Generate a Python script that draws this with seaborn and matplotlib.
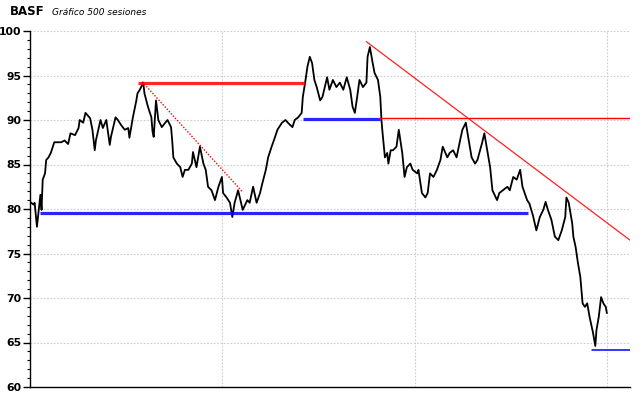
import numpy as np
import pandas as pd
import matplotlib
matplotlib.use("Agg")
import matplotlib.pyplot as plt
import seaborn as sns

# ---- data ----
sessions = [0, 3, 4, 6, 9, 10, 11, 13, 14, 16, 18, 21, 24, 27, 30, 33, 35, 39, 42, 43,
            46, 48, 52, 54, 56, 57, 61, 63, 66, 69, 70, 74, 76, 79, 82, 85, 86, 89, 92, 93,
            95, 98, 99, 102, 105, 106, 107, 109, 111, 114, 117, 119, 122, 123, 124, 127, 130, 132, 134, 137,
            140, 141, 144, 147, 150, 152, 154, 157, 160, 163, 166, 167, 170, 173, 175, 177, 180, 182, 184, 188,
            190, 193, 196, 199, 201, 204, 206, 209, 212, 214, 218, 221, 223, 227, 229, 232, 235, 236, 238, 240,
            242, 244, 246, 248, 251, 253, 257, 259, 262, 265, 268, 271, 274, 277, 279, 281, 283, 285, 288, 291,
            292, 294, 296, 298, 301, 303, 304, 305, 307, 309, 310, 312, 314, 317, 319, 322, 324, 326, 329, 331,
            335, 336, 339, 342, 344, 346, 349, 352, 355, 357, 361, 363, 366, 369, 372, 374, 377, 379, 382, 385,
            387, 391, 393, 395, 398, 400, 404, 406, 409, 413, 415, 418, 421, 424, 426, 430, 432, 435, 438, 441,
            444, 446, 448, 451, 454, 457, 460, 463, 464, 466, 469, 470, 472, 474, 476, 477, 478, 480, 482, 484,
            486, 487, 489, 490, 492, 494, 496, 498, 499]
prices = [80.8, 80.5, 80.7, 78.0, 81.6, 79.9, 83.3, 84.0, 85.5, 85.8, 86.3, 87.5, 87.5, 87.5, 87.7, 87.3, 88.5, 88.3, 89.1, 90.0,
          89.7, 90.8, 90.2, 88.9, 86.6, 87.7, 90.0, 89.1, 90.0, 87.2, 88.1, 90.3, 90.0, 89.4, 88.9, 89.1, 88.0, 90.3, 92.2, 93.0,
          93.4, 94.2, 93.0, 91.5, 90.3, 88.7, 88.1, 92.2, 90.0, 89.2, 89.7, 90.0, 89.2, 87.7, 85.8, 85.1, 84.7, 83.6, 84.4, 84.4,
          85.1, 86.4, 84.7, 87.0, 85.1, 84.4, 82.5, 82.1, 81.0, 82.5, 83.6, 81.8, 81.3, 80.7, 79.1, 80.7, 82.1, 81.0, 79.9, 81.0,
          80.7, 82.5, 80.7, 81.8, 82.9, 84.4, 85.8, 87.0, 88.1, 88.9, 89.7, 90.0, 89.7, 89.2, 90.0, 90.3, 90.8, 92.6, 94.2, 96.0,
          97.1, 96.4, 94.5, 93.7, 92.2, 92.6, 94.8, 93.4, 94.5, 93.7, 94.2, 93.4, 94.8, 93.4, 91.5, 90.8, 92.6, 94.5, 93.7, 94.2,
          97.1, 98.2, 96.7, 95.3, 94.5, 92.6, 90.0, 88.5, 85.8, 86.3, 85.1, 86.6, 86.6, 87.0, 88.9, 86.3, 83.6, 84.7, 85.1, 84.4,
          84.0, 84.4, 81.8, 81.3, 81.8, 84.0, 83.6, 84.4, 85.5, 87.0, 85.8, 86.3, 86.6, 85.8, 87.7, 88.9, 89.7, 88.1, 85.8, 85.1,
          85.5, 87.4, 88.5, 87.0, 84.7, 82.1, 81.0, 81.8, 82.1, 82.5, 82.1, 83.6, 83.3, 84.4, 82.5, 81.0, 80.6, 79.3, 77.6, 79.1,
          79.9, 80.8, 79.9, 78.8, 76.9, 76.5, 77.6, 79.1, 81.3, 80.7, 78.4, 76.9, 75.7, 73.9, 72.4, 70.9, 69.4, 69.0, 69.4, 67.9,
          66.7, 66.1, 64.6, 66.4, 67.9, 70.1, 69.4, 69.0, 68.3]

# support / resistance lines: (x0, x1, y0, y1)
red_thick = (93, 238, 94.2, 94.2)
red_dotted = (97, 184, 94.3, 81.9)
blue_thick_low = (9, 431, 79.6, 79.6)
blue_thick_mid = (236, 303, 90.1, 90.1)
red_thin_h = (303, 519, 90.2, 90.2)
red_diag = (291, 519, 98.8, 76.5)
blue_thin_low = (486, 519, 64.2, 64.2)

y_ticks = [60, 65, 70, 75, 80, 85, 90, 95, 100]
x_grid = [166.3, 332.7, 499]

df = pd.DataFrame({"session": sessions, "price": prices})

sns.set_theme(style="white")
plt.rcParams['font.family'] = ['DejaVu Sans']

fig = plt.figure(figsize=(6.4, 3.98), dpi=100)
ax = fig.add_axes([30 / 640, 11 / 398, 600 / 640, 356 / 398])

sns.lineplot(data=df, x="session", y="price", ax=ax, color="black", linewidth=1.3, zorder=3)

def seg(s, **kw):
    ax.plot([s[0], s[1]], [s[2], s[3]], **kw)

seg(red_thick, color="#ff0000", linewidth=2.3, alpha=0.85, zorder=4, solid_capstyle="butt")
seg(red_dotted, color="#ff0000", linewidth=1.0, linestyle=(0, (1, 1.2)), zorder=4)
seg(blue_thick_low, color="#0000ff", linewidth=2.3, alpha=0.85, zorder=4, solid_capstyle="butt")
seg(blue_thick_mid, color="#0000ff", linewidth=2.3, alpha=0.85, zorder=4, solid_capstyle="butt")
seg(red_thin_h, color="#ff0000", linewidth=1.0, zorder=4)
seg(red_diag, color="#ff2020", linewidth=0.9, zorder=4)
seg(blue_thin_low, color="#0000ff", linewidth=1.1, zorder=4)

ax.set_xlim(0, 519)
ax.set_ylim(60, 100)
ax.set_yticks(y_ticks)
ax.set_yticklabels([str(t) for t in y_ticks], fontweight="bold", fontsize=7.8, color="black")
ax.set_yticks(np.arange(60, 101, 1), minor=True)
ax.set_xticks(x_grid)
ax.set_xticklabels([])
ax.tick_params(axis="y", which="major", direction="out", length=5, width=1, color="black",
               labelcolor="black", pad=1, left=True)
ax.tick_params(axis="y", which="minor", direction="out", length=2.5, width=0.8, color="black", left=True)
ax.tick_params(axis="x", which="both", length=0)
ax.set_xlabel("")
ax.set_ylabel("")

ax.grid(True, which="major", axis="both", color="#cdcdcd", linestyle=(0, (1.5, 1.5)), linewidth=0.8)
ax.set_axisbelow(True)
for side in ["top", "right"]:
    ax.spines[side].set_visible(False)
for side in ["left", "bottom"]:
    ax.spines[side].set_color("black")
    ax.spines[side].set_linewidth(1.0)

fig.text(10 / 640, 1 - 15 / 398, "BASF", fontsize=8.5, fontweight="bold", color="black", ha="left", va="baseline")
fig.text(52 / 640, 1 - 15 / 398, "Gráfico 500 sesiones", fontsize=6.5, fontstyle="italic", color="black", ha="left", va="baseline")

fig.savefig("out.png", dpi=100)
